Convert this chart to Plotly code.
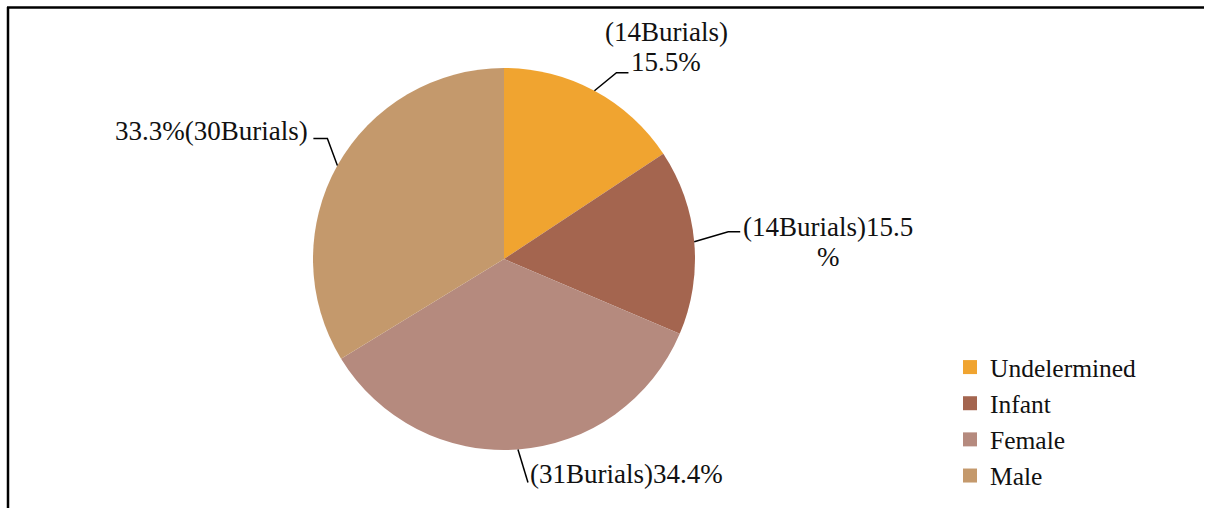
import numpy as np
import plotly.graph_objects as go

# Burial groups
categories = ["Undelermined", "Infant", "Female", "Male"]
percentages = [15.5, 15.5, 34.4, 33.3]
burials = [14, 14, 31, 30]
colors = ["#F0A430", "#A4654F", "#B58A7E", "#C4996C"]

W, H = 1209, 508
CX, CY, R = 504, 259, 191  # pie centre / radius in pixels
FONT = "Liberation Serif"
FS = 27
LEG_FS = 25.5


def px(x):
    return x / W


def py(y):
    return (H - y) / H


fig = go.Figure(
    go.Pie(
        labels=categories,
        values=percentages,
        marker=dict(colors=colors, line=dict(width=0)),
        sort=False,
        direction="clockwise",
        rotation=0,
        textinfo="none",
        hoverinfo="label+percent",
        showlegend=False,
        domain=dict(x=[px(CX - R), px(CX + R)], y=[py(CY + R), py(CY - R)]),
    )
)

# Legend entries with larger square swatches
for name, col in zip(categories, colors):
    fig.add_trace(go.Scatter(x=[None], y=[None], mode="markers", name=name,
                             marker=dict(symbol="square", size=14, color=col),
                             hoverinfo="skip"))

# Mid-angle of each slice (clockwise from 12 o'clock) and its edge point
vals = np.array(percentages, dtype=float)
cum = np.cumsum(vals) - vals / 2
mid = cum / vals.sum() * 2 * np.pi
edge = [(CX + R * np.sin(a), CY - R * np.cos(a)) for a in mid]

# Leader-line elbows and label placement (pixel offsets from the edge point)
elbow = [(22, -18), (34, -10), (10, 33), (-10, -27)]
tail = [(12, 0), (12, 0), (0, 0), (-14, 0)]

shapes = []
for (ex, ey), (dx, dy), (tx, ty) in zip(edge, elbow, tail):
    bx, by = ex + dx, ey + dy
    pts = [(ex, ey), (bx, by), (bx + tx, by + ty)]
    path = "M " + " L ".join(f"{px(x)},{py(y)}" for x, y in pts)
    shapes.append(dict(type="path", path=path, xref="paper", yref="paper",
                       line=dict(color="black", width=1.5)))

# Chart frame (top and left edges)
shapes.append(dict(type="line", xref="paper", yref="paper",
                   x0=px(7), x1=px(1204), y0=py(7.5), y1=py(7.5),
                   line=dict(color="black", width=2.5)))
shapes.append(dict(type="line", xref="paper", yref="paper",
                   x0=px(8), x1=px(8), y0=py(7), y1=py(508),
                   line=dict(color="black", width=2.5)))

lbl = [f"({b}Burials)" for b in burials]
pct = [f"{p}%" for p in percentages]

annotations = []


def note(text, x, y, xanchor="center"):
    annotations.append(dict(text=text, x=px(x), y=py(y), xref="paper", yref="paper",
                            xanchor=xanchor, yanchor="middle", showarrow=False,
                            font=dict(family=FONT, size=FS, color="#111111")))


# Undelermined
ex, ey = edge[0]
note(lbl[0], ex + 72, ey - 59)
note(pct[0], ex + 72, ey - 29)
# Infant
ex, ey = edge[1]
note(lbl[1] + f"{percentages[1]}", ex + 47, ey - 15, "left")
note("%", ex + 134, ey + 15)
# Female
ex, ey = edge[2]
note(lbl[2] + pct[2], ex + 10, ey + 25, "left")
# Male
ex, ey = edge[3]
note(pct[3] + lbl[3], ex - 27, ey - 35, "right")

fig.update_layout(
    width=W, height=H,
    margin=dict(l=0, r=0, t=0, b=0),
    paper_bgcolor="white",
    plot_bgcolor="white",
    font=dict(family=FONT),
    xaxis=dict(visible=False),
    yaxis=dict(visible=False),
    showlegend=True,
    legend=dict(x=px(950), y=py(344), xanchor="left", yanchor="top",
                font=dict(family=FONT, size=LEG_FS, color="#111111"),
                itemclick=False, traceorder="normal"),
    shapes=shapes,
    annotations=annotations,
)

fig.write_html("out.html")
